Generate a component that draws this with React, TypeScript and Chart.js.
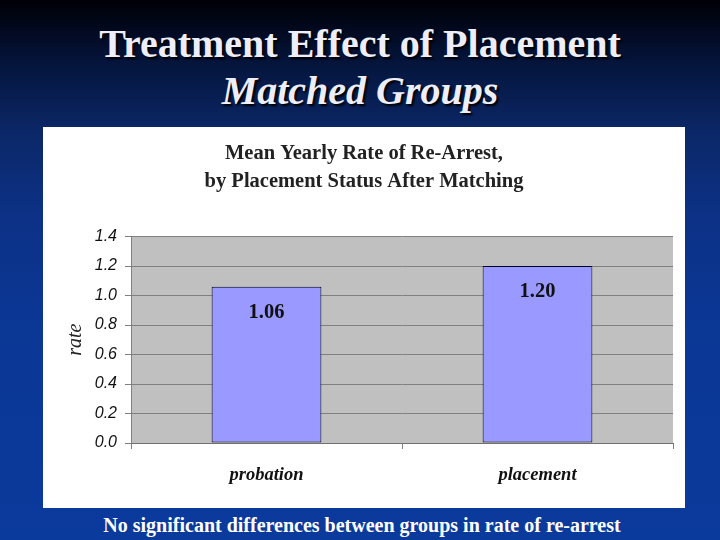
import React, { useEffect, useRef } from "react";
import { Chart, registerables } from "chart.js";

Chart.register(...registerables);

const categories = ["probation", "placement"];
const rates = [1.06, 1.2];
const chartTitle = ["Mean Yearly Rate of Re-Arrest,", "by Placement Status After Matching"];
const slideTitle = "Treatment Effect of Placement";
const slideSubtitle = "Matched Groups";
const footer = "No significant differences between groups in rate of re-arrest";
const yMin = 0;
const yMax = 1.4;
const yStep = 0.2;

const plotBg = {
  id: "plotBg",
  beforeDraw(chart: any) {
    const { ctx, chartArea } = chart;
    ctx.save();
    ctx.fillStyle = "#c0c0c0";
    ctx.fillRect(chartArea.left, chartArea.top, chartArea.right - chartArea.left, chartArea.bottom - chartArea.top);
    ctx.restore();
  },
};

const valueLabels = {
  id: "valueLabels",
  afterDatasetsDraw(chart: any) {
    const { ctx } = chart;
    const meta = chart.getDatasetMeta(0);
    ctx.save();
    ctx.font = "bold 20.5px 'Liberation Serif'";
    ctx.fillStyle = "#111";
    ctx.textAlign = "center";
    ctx.textBaseline = "middle";
    meta.data.forEach((bar: any, i: number) => {
      const v = chart.data.datasets[0].data[i] as number;
      ctx.fillText(v.toFixed(2), bar.x, bar.y + 26);
    });
    ctx.restore();
  },
};

export default function App() {
  const ref = useRef<HTMLCanvasElement>(null);
  useEffect(() => {
    if (!ref.current) return;
    const chart = new Chart(ref.current, {
      type: "bar",
      data: {
        labels: categories,
        datasets: [
          {
            data: rates,
            backgroundColor: "#9999ff",
            borderColor: "#000022",
            borderWidth: 1,
            borderSkipped: false,
            categoryPercentage: 1,
            barPercentage: 0.405,
          },
        ],
      },
      plugins: [plotBg, valueLabels],
      options: {
        animation: false,
        responsive: false,
        devicePixelRatio: 1,
        layout: { padding: { left: 12, right: 12, top: 0, bottom: 0 } },
        plugins: {
          legend: { display: false },
          tooltip: { enabled: false },
          title: {
            display: true,
            text: chartTitle,
            color: "#222",
            font: { family: "'Liberation Serif'", size: 20.5, weight: "bold", lineHeight: 1.33 },
            padding: { top: 13.5, bottom: 41.5 },
          },
        },
        scales: {
          x: {
            grid: {
              display: true,
              drawOnChartArea: false,
              drawTicks: true,
              offset: true,
              tickLength: 6,
              color: "#808080",
            },
            border: { display: true, color: "#707070" },
            ticks: {
              color: "#111",
              padding: 15,
              font: { family: "'Liberation Serif'", size: 18.5, weight: "bold", style: "italic" },
            },
            afterFit(scale: any) {
              scale.height = 65;
            },
          },
          y: {
            min: yMin,
            max: yMax,
            ticks: {
              stepSize: yStep,
              color: "#111",
              padding: 8,
              font: { family: "'Liberation Sans'", size: 16, style: "italic" },
              callback: (v: any) => Number(v).toFixed(1),
            },
            grid: { color: "#808080", tickLength: 6, drawTicks: true },
            border: { display: true, color: "#808080" },
            title: {
              display: true,
              text: "rate",
              color: "#222",
              padding: { top: 9, bottom: 0 },
              font: { family: "'Liberation Serif'", size: 20, style: "italic" },
            },
            afterFit(scale: any) {
              scale.width = 76;
            },
          },
        },
      },
    });
    return () => chart.destroy();
  }, []);

  const titleStyle: React.CSSProperties = {
    position: "absolute",
    left: 0,
    width: 720,
    textAlign: "center",
    color: "#eeeefa",
    fontFamily: "'Liberation Serif', serif",
    fontWeight: "bold",
    fontSize: 40,
    lineHeight: "40px",
    textShadow: "2px 2px 2px #000",
    whiteSpace: "nowrap",
  };

  return (
    <div
      style={{
        position: "absolute",
        left: 0,
        top: 0,
        width: 720,
        height: 540,
        overflow: "hidden",
        background:
          "linear-gradient(to bottom, #000006 0%, #05153d 12%, #0b2766 24%, #0c3186 40%, #0b3795 60%, #0a3a9c 100%)",
      }}
    >
      <div style={{ ...titleStyle, top: 24 }}>{slideTitle}</div>
      <div style={{ ...titleStyle, top: 71, fontStyle: "italic" }}>{slideSubtitle}</div>
      <div
        style={{
          position: "absolute",
          left: 43,
          top: 127,
          width: 642,
          height: 381,
          background: "#ffffff",
        }}
      >
        <canvas ref={ref} width={642} height={381} style={{ display: "block", width: 642, height: 381 }} />
      </div>
      <div
        style={{
          position: "absolute",
          left: 0,
          width: 724,
          top: 514,
          textAlign: "center",
          color: "#ffffff",
          fontFamily: "'Liberation Serif', serif",
          fontWeight: "bold",
          fontSize: 20,
          lineHeight: "22px",
          whiteSpace: "nowrap",
        }}
      >
        {footer}
      </div>
    </div>
  );
}
